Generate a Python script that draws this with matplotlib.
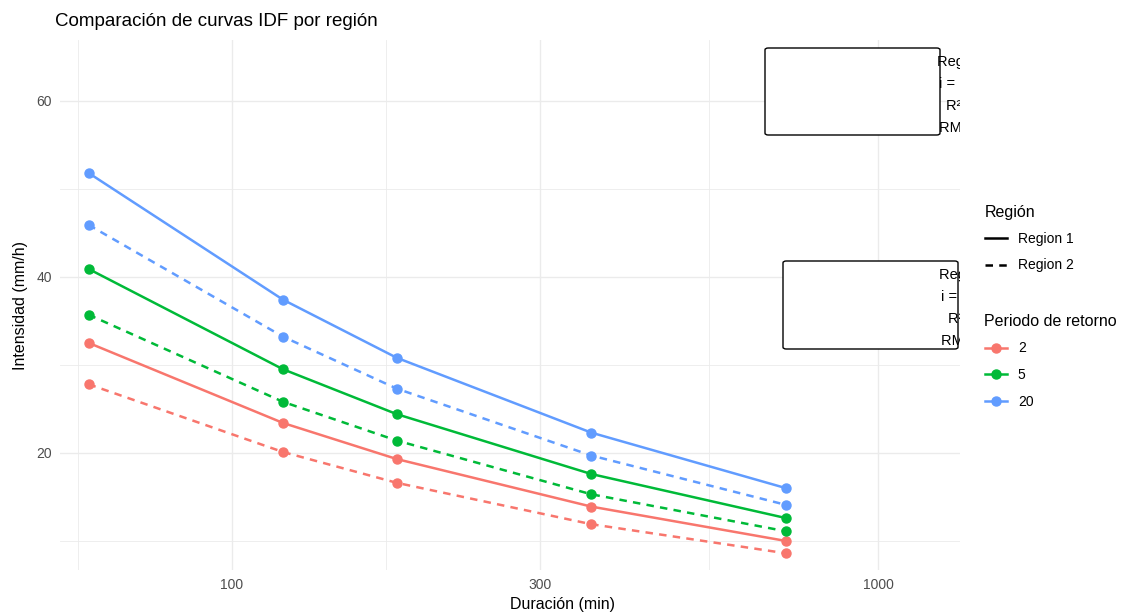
import numpy as np
import matplotlib.pyplot as plt
from matplotlib.patches import FancyBboxPatch
from matplotlib.lines import Line2D

plt.rcParams['font.family'] = ['Liberation Sans', 'DejaVu Sans']

duracion = [60, 120, 180, 360, 720]
periodos = ['2', '5', '20']
colores = {'2': '#F8766D', '5': '#00BA38', '20': '#619CFF'}

region1 = {
    '2': [32.5, 23.4, 19.3, 13.9, 10.0],
    '5': [40.9, 29.5, 24.4, 17.6, 12.6],
    '20': [51.8, 37.4, 30.8, 22.3, 16.0],
}
region2 = {
    '2': [27.8, 20.1, 16.6, 11.9, 8.6],
    '5': [35.7, 25.8, 21.4, 15.3, 11.1],
    '20': [45.9, 33.2, 27.3, 19.7, 14.1],
}

W, H = 1121, 614
fig = plt.figure(figsize=(W / 100, H / 100), dpi=100)
ax = fig.add_axes([60 / W, 1 - 570 / H, 900 / W, 530 / H])

ax.set_xscale('log')
ax.set_xlim(54.2, 1339)
ax.set_ylim(6.7, 66.9)

# grid estilo ggplot
for v in [100, 300, 1000]:
    ax.axvline(v, color='#ebebeb', lw=1.0, zorder=0)
for v in [57.7, 173.2, 547.7]:
    ax.axvline(v, color='#ebebeb', lw=0.6, zorder=0)
for v in [20, 40, 60]:
    ax.axhline(v, color='#ebebeb', lw=1.0, zorder=0)
for v in [10, 30, 50]:
    ax.axhline(v, color='#ebebeb', lw=0.6, zorder=0)

for t in periodos:
    ax.plot(duracion, region1[t], color=colores[t], lw=1.8, ls='-',
            marker='o', ms=6.5, zorder=3)
    ax.plot(duracion, region2[t], color=colores[t], lw=1.8, ls=(0, (3, 2.5)),
            marker='o', ms=6.5, zorder=3)

ax.set_xticks([100, 300, 1000])
ax.set_xticklabels(['100', '300', '1000'])
ax.set_xticks([], minor=True)
ax.set_yticks([20, 40, 60])
ax.tick_params(length=0, colors='#4d4d4d', labelsize=10, pad=6)
for s in ax.spines.values():
    s.set_visible(False)

ax.set_ylabel('Intensidad (mm/h)', fontsize=11.5, labelpad=6)
fig.text(562 / W, 1 - 605 / H, 'Duración (min)', ha='center', va='center', fontsize=11.5)
fig.text(55 / W, 1 - 21 / H, 'Comparación de curvas IDF por región', ha='left',
         va='center', fontsize=13.5)

# cajas de anotación (recortadas por el panel)
def caja(x0, y0, x1, y1, cx, lineas, top, bot):
    p = FancyBboxPatch((x0 / W, 1 - y1 / H), (x1 - x0) / W, (y1 - y0) / H,
                       boxstyle='round,pad=0,rounding_size=0.003',
                       transform=fig.transFigure, fc='white', ec='black', lw=1.0,
                       zorder=4)
    fig.add_artist(p)
    ys = np.linspace(y0 + top, y1 - bot, len(lineas))
    for yy, txt in zip(ys, lineas):
        t = fig.text(cx / W, 1 - yy / H, txt, ha='center', va='center',
                     fontsize=10.5, zorder=5)
        t.set_clip_path(ax.patch)
        t.set_clip_on(True)

caja(765, 48, 940, 135, 966,
     ['Region 1', 'i = 1.2·T', 'R² = 1', 'RMSE 0'], 14, 7)
caja(783, 261, 958, 349, 968,
     ['Region 2', 'i = 1.0·T', 'R² = 1', 'RMSE 0'], 13.5, 8)

# leyendas
h_reg = [Line2D([], [], color='black', lw=1.8, ls='-'),
         Line2D([], [], color='black', lw=1.8, ls=(0, (3, 2.5)))]
leg1 = fig.legend(h_reg, ['Region 1', 'Region 2'], title='Región',
                  loc='upper left', bbox_to_anchor=(972 / W, 1 - 192 / H),
                  frameon=False, fontsize=10, title_fontsize=11.5,
                  handlelength=1.6, alignment='left', labelspacing=0.9)
h_per = [Line2D([], [], color=colores[t], lw=1.8, marker='o', ms=6.5) for t in periodos]
leg2 = fig.legend(h_per, periodos, title='Periodo de retorno',
                  loc='upper left', bbox_to_anchor=(972 / W, 1 - 301 / H),
                  frameon=False, fontsize=10, title_fontsize=11.5,
                  handlelength=1.6, alignment='left', labelspacing=0.93)

fig.savefig('out.png', dpi=100)
